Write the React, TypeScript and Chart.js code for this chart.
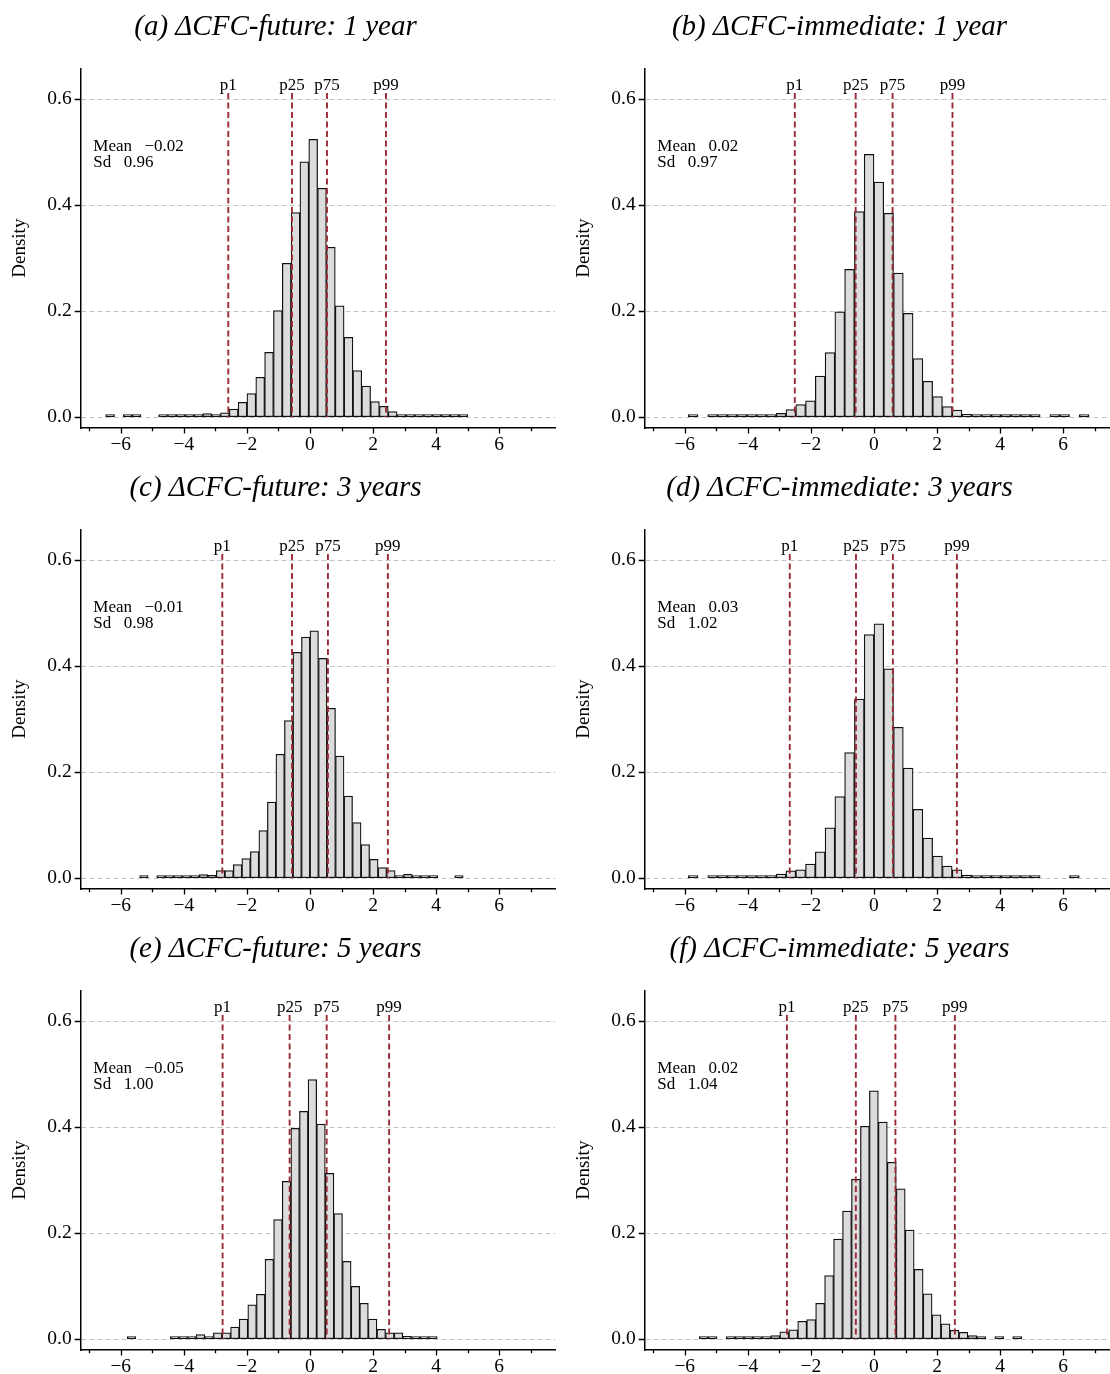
import React, { useEffect, useRef } from 'react';
import { Chart, registerables } from 'chart.js';

Chart.register(...registerables);

const SERIF = "'Liberation Serif', 'Times New Roman', Times, serif";
Chart.defaults.font.family = SERIF;

// ---------- shared labels / ticks ----------
const panelTitles = [
  '(a) \u0394CFC-future: 1 year',
  '(b) \u0394CFC-immediate: 1 year',
  '(c) \u0394CFC-future: 3 years',
  '(d) \u0394CFC-immediate: 3 years',
  '(e) \u0394CFC-future: 5 years',
  '(f) \u0394CFC-immediate: 5 years',
];
const percentileNames = ['p1', 'p25', 'p75', 'p99'];
const yTickValues = [0, 0.2, 0.4, 0.6];
const xMajorTickValues = [-6, -4, -2, 0, 2, 4, 6];
const xMinorTickValues = [-7, -5, -3, -1, 1, 3, 5, 7];

// ---------- (a) future, 1 year ----------
const binStartA = -6.478;
const binWidthA = 0.28;
const densityA = [
  0.0008, null, 0.0008, 0.0008, null, null, 0.001, 0.0015, 0.001, 0.0015,
  0.002, 0.007, 0.004, 0.0085, 0.0157, 0.0283, 0.0447, 0.0755, 0.1226, 0.2013,
  0.2906, 0.3862, 0.4818, 0.5245, 0.4321, 0.3208, 0.2101, 0.1509, 0.0881, 0.0591,
  0.0296, 0.0208, 0.011, 0.0045, 0.003, 0.004, 0.002, 0.001, 0.0008, 0.0008, 0.0008,
];
const percentilesA = [-2.59, -0.57, 0.54, 2.41];
const meanA = -0.02;
const sdA = 0.96;

// ---------- (b) immediate, 1 year ----------
const binStartB = -5.89;
const binWidthB = 0.31;
const densityB = [
  0.0008, null, 0.0006, 0.0006, 0.0006, 0.0006, 0.001, 0.002, 0.003, 0.0075,
  0.0144, 0.024, 0.031, 0.078, 0.122, 0.199, 0.279, 0.388, 0.496, 0.444,
  0.385, 0.272, 0.196, 0.111, 0.068, 0.039, 0.02, 0.0138, 0.0056, 0.0044,
  0.0013, 0.001, 0.0008, 0.0008, 0.0006, 0.0006, null, 0.0006, 0.0006, null, 0.0006,
];
const percentilesB = [-2.51, -0.58, 0.59, 2.49];
const meanB = 0.02;
const sdB = 0.97;

// ---------- (c) future, 3 years ----------
const binStartC = -5.4;
const binWidthC = 0.27;
const densityC = [
  0.0008, null, 0.0005, 0.0005, 0.0005, 0.0006, 0.0006, 0.0069, 0.0057, 0.0145,
  0.0145, 0.0258, 0.0371, 0.0503, 0.0899, 0.144, 0.234, 0.2975, 0.4264, 0.4553,
  0.4667, 0.415, 0.3208, 0.2308, 0.1553, 0.105, 0.0635, 0.0358, 0.0201, 0.0145,
  0.0044, 0.0075, 0.0019, 0.001, 0.0008, null, null, 0.0008,
];
const percentilesC = [-2.78, -0.57, 0.57, 2.47];
const meanC = -0.01;
const sdC = 0.98;

// ---------- (d) immediate, 3 years ----------
const binStartD = -5.89;
const binWidthD = 0.31;
const densityD = [
  0.0006, null, 0.0006, 0.0006, 0.001, 0.001, 0.0015, 0.003, 0.004, 0.008,
  0.014, 0.016, 0.027, 0.05, 0.095, 0.154, 0.237, 0.338, 0.46, 0.48,
  0.395, 0.285, 0.208, 0.13, 0.076, 0.042, 0.023, 0.016, 0.006, 0.004,
  0.002, 0.0015, 0.001, 0.001, 0.0006, 0.0006, null, null, null, 0.0006,
];
const percentilesD = [-2.67, -0.57, 0.6, 2.63];
const meanD = 0.03;
const sdD = 1.02;

// ---------- (e) future, 5 years ----------
const binStartE = -5.793;
const binWidthE = 0.273;
const densityE = [
  0.0006, null, null, null, null, 0.0006, 0.002, 0.002, 0.0088, 0.005,
  0.012, 0.012, 0.023, 0.038, 0.065, 0.085, 0.151, 0.226, 0.298, 0.398,
  0.43, 0.49, 0.406, 0.313, 0.237, 0.147, 0.1, 0.068, 0.038, 0.019,
  0.012, 0.012, 0.0056, 0.0038, 0.003, 0.0013,
];
const percentilesE = [-2.77, -0.645, 0.53, 2.51];
const meanE = -0.05;
const sdE = 1.0;

// ---------- (f) immediate, 5 years ----------
const binStartF = -5.541;
const binWidthF = 0.284;
const densityF = [
  0.0006, 0.0006, null, 0.0006, 0.002, 0.002, 0.0006, 0.0006, 0.007, 0.014,
  0.018, 0.034, 0.037, 0.068, 0.12, 0.189, 0.242, 0.302, 0.402, 0.469,
  0.41, 0.334, 0.284, 0.206, 0.132, 0.086, 0.046, 0.029, 0.017, 0.013,
  0.007, 0.004, null, 0.0006, null, 0.0006,
];
const percentilesF = [-2.76, -0.575, 0.68, 2.565];
const meanF = 0.02;
const sdF = 1.04;

const panels = [
  { title: panelTitles[0], density: densityA, binStart: binStartA, binWidth: binWidthA, percentiles: percentilesA, mean: meanA, sd: sdA },
  { title: panelTitles[1], density: densityB, binStart: binStartB, binWidth: binWidthB, percentiles: percentilesB, mean: meanB, sd: sdB },
  { title: panelTitles[2], density: densityC, binStart: binStartC, binWidth: binWidthC, percentiles: percentilesC, mean: meanC, sd: sdC },
  { title: panelTitles[3], density: densityD, binStart: binStartD, binWidth: binWidthD, percentiles: percentilesD, mean: meanD, sd: sdD },
  { title: panelTitles[4], density: densityE, binStart: binStartE, binWidth: binWidthE, percentiles: percentilesE, mean: meanE, sd: sdE },
  { title: panelTitles[5], density: densityF, binStart: binStartF, binWidth: binWidthF, percentiles: percentilesF, mean: meanF, sd: sdF },
];

// ---------- layout / style constants ----------
const PANEL_W = 564;
const PANEL_H = 461;
const PLOT_LEFT = 80.7;
const PLOT_RIGHT = 555;
const PLOT_TOP = 68.3;
const PLOT_BOTTOM = 428;
const X_MIN = -7.27;
const X_MAX = 7.77;
const Y_MIN = -0.0202;
const Y_MAX = 0.6585;
const PLINE_TOP = 0.612;
const RED = '#9a2a36';

function fmtSigned(v: number, digits: number): string {
  const s = Math.abs(v).toFixed(digits);
  return v < 0 && Number(s) !== 0 ? '\u2212' + s : s;
}

type PanelData = {
  title: string;
  density: (number | null)[];
  binStart: number;
  binWidth: number;
  percentiles: number[];
  mean: number;
  sd: number;
};

function Panel({ panel }: { panel: PanelData }) {
  const ref = useRef<HTMLCanvasElement | null>(null);

  useEffect(() => {
    const canvas = ref.current;
    if (!canvas) return;

    const bars = panel.density.map((d, i) => ({
      x: panel.binStart + (i + 0.5) * panel.binWidth,
      y: d,
    }));

    const lineSets = panel.percentiles.map((p) => ({
      type: 'line' as const,
      data: [
        { x: p, y: PLINE_TOP },
        { x: p, y: 0 },
      ],
      borderColor: RED,
      borderWidth: 1.9,
      borderDash: [6, 3.5],
      pointRadius: 0,
      fill: false,
      order: 0,
    }));

    const decor = {
      id: 'decor',
      afterDraw(chart: any) {
        const { ctx, chartArea, scales } = chart;
        const xs = scales.x;
        const ys = scales.y;
        ctx.save();
        ctx.fillStyle = '#000';
        ctx.strokeStyle = '#000';

        // title
        ctx.font = `italic 29px ${SERIF}`;
        ctx.textAlign = 'center';
        ctx.textBaseline = 'alphabetic';
        ctx.fillText(panel.title, 275.5, 35);

        // y axis title
        ctx.save();
        ctx.translate(20.5, (chartArea.top + chartArea.bottom) / 2);
        ctx.rotate(-Math.PI / 2);
        ctx.font = `19px ${SERIF}`;
        ctx.textAlign = 'center';
        ctx.textBaseline = 'middle';
        ctx.fillText('Density', 0, 0);
        ctx.restore();

        // tick marks
        ctx.lineWidth = 1.3;
        ctx.beginPath();
        xMajorTickValues.forEach((v) => {
          const px = Math.round(xs.getPixelForValue(v)) + 0.5;
          ctx.moveTo(px, chartArea.bottom);
          ctx.lineTo(px, chartArea.bottom + 5.5);
        });
        xMinorTickValues.forEach((v) => {
          const px = Math.round(xs.getPixelForValue(v)) + 0.5;
          ctx.moveTo(px, chartArea.bottom);
          ctx.lineTo(px, chartArea.bottom + 3.2);
        });
        yTickValues.forEach((v) => {
          const py = Math.round(ys.getPixelForValue(v)) + 0.5;
          ctx.moveTo(chartArea.left - 6, py);
          ctx.lineTo(chartArea.left, py);
        });
        ctx.stroke();

        // percentile labels
        ctx.font = `17px ${SERIF}`;
        ctx.textAlign = 'center';
        ctx.textBaseline = 'alphabetic';
        const labelY = ys.getPixelForValue(PLINE_TOP) - 2.6;
        panel.percentiles.forEach((p, i) => {
          ctx.fillText(percentileNames[i], xs.getPixelForValue(p), labelY);
        });

        // mean / sd box
        ctx.font = `17px ${SERIF}`;
        ctx.textAlign = 'left';
        const tx = chartArea.left + 12.6;
        const meanY = chartArea.top + 82.4;
        const sdY = chartArea.top + 99;
        const gap = 12.5;
        ctx.fillText('Mean', tx, meanY);
        ctx.fillText(fmtSigned(panel.mean, 2), tx + ctx.measureText('Mean').width + gap, meanY);
        ctx.fillText('Sd', tx, sdY);
        ctx.fillText(fmtSigned(panel.sd, 2), tx + ctx.measureText('Sd').width + gap, sdY);

        ctx.restore();
      },
    };

    const chart = new Chart(canvas, {
      type: 'bar',
      data: {
        datasets: [
          {
            type: 'bar',
            data: bars as any,
            backgroundColor: '#dcdcdc',
            borderColor: '#111111',
            borderWidth: 1.25,
            borderSkipped: false,
            barPercentage: 1,
            categoryPercentage: 1,
            minBarLength: 2.6,
            order: 1,
          } as any,
          ...(lineSets as any[]),
        ],
      },
      options: {
        responsive: false,
        animation: false,
        events: [],
        devicePixelRatio: 1,
        layout: {
          padding: { top: PLOT_TOP, left: 0, right: PANEL_W - PLOT_RIGHT, bottom: 0 },
        },
        plugins: {
          legend: { display: false },
          tooltip: { enabled: false },
        },
        scales: {
          x: {
            type: 'linear',
            min: X_MIN,
            max: X_MAX,
            offset: false,
            afterBuildTicks: (axis: any) => {
              axis.ticks = xMajorTickValues.map((v) => ({ value: v }));
            },
            afterFit: (axis: any) => {
              axis.height = PANEL_H - PLOT_BOTTOM;
            },
            grid: { display: false, drawTicks: false, tickLength: 0 },
            border: { display: true, color: '#000', width: 1.5 },
            ticks: {
              autoSkip: false,
              maxRotation: 0,
              padding: 5,
              color: '#000',
              font: { size: 19.5, family: SERIF },
              callback: (v: any) => fmtSigned(Number(v), 0),
            },
          },
          y: {
            type: 'linear',
            min: Y_MIN,
            max: Y_MAX,
            afterBuildTicks: (axis: any) => {
              axis.ticks = yTickValues.map((v) => ({ value: v }));
            },
            afterFit: (axis: any) => {
              axis.width = PLOT_LEFT;
            },
            grid: {
              display: true,
              drawOnChartArea: true,
              drawTicks: false,
              tickLength: 0,
              color: '#c6c6c6',
              lineWidth: 1,
            },
            border: { display: true, color: '#000', width: 1.5, dash: [5, 3] },
            ticks: {
              autoSkip: false,
              padding: 9,
              color: '#000',
              font: { size: 19.5, family: SERIF },
              callback: (v: any) => Number(v).toFixed(1),
            },
          },
        },
      } as any,
      plugins: [decor],
    });

    return () => chart.destroy();
  }, [panel]);

  return (
    <canvas
      ref={ref}
      width={PANEL_W}
      height={PANEL_H}
      style={{ display: 'block', width: PANEL_W, height: PANEL_H }}
    />
  );
}

export default function App() {
  return (
    <div
      style={{
        position: 'absolute',
        left: 0,
        top: 0,
        width: 1110,
        height: 1374,
        overflow: 'hidden',
        background: '#fff',
      }}
    >
      {panels.map((p, i) => (
        <div
          key={i}
          style={{
            position: 'absolute',
            left: (i % 2) * PANEL_W,
            top: Math.floor(i / 2) * PANEL_H,
            width: PANEL_W,
            height: PANEL_H,
          }}
        >
          <Panel panel={p} />
        </div>
      ))}
    </div>
  );
}
